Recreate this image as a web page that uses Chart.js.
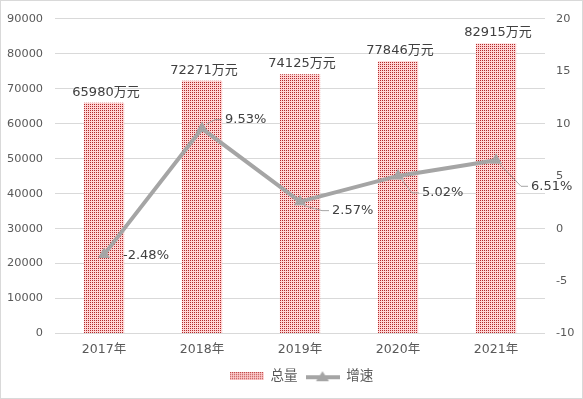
<!DOCTYPE html>
<html>
<head>
<meta charset="utf-8">
<script src="https://cdn.jsdelivr.net/npm/chart.js@4"></script>
<style>
html,body{margin:0;padding:0;background:#fff;}
#wrap{width:583px;height:399px;position:relative;}
</style>
</head>
<body>
<div id="wrap"><canvas id="c" width="583" height="399"></canvas></div>
<script>
const categories = ['2017年','2018年','2019年','2020年','2021年'];
const totals = [65980, 72271, 74125, 77846, 82915];
const growth = [-2.48, 9.53, 2.57, 5.02, 6.51];
const leftTicks = [0, 10000, 20000, 30000, 40000, 50000, 60000, 70000, 80000, 90000];
const rightTicks = [-10, -5, 0, 5, 10, 15, 20];
const seriesNames = ['总量', '增速'];

const FONT = "'DejaVu Sans', 'Noto Sans CJK SC', sans-serif";
const LINE_COLOR = '#a5a5a5';
const DOT_BG = '#ffd4d4';
const DOT_FG = '#b22a2a';

function makePattern() {
  const p = document.createElement('canvas');
  p.width = 2; p.height = 2;
  const g = p.getContext('2d');
  g.fillStyle = DOT_BG;
  g.fillRect(0, 0, 2, 2);
  g.fillStyle = DOT_FG;
  g.fillRect(0, 0, 1, 1);
  return document.getElementById('c').getContext('2d').createPattern(p, 'repeat');
}
const pattern = makePattern();

function barIcon() {
  const c = document.createElement('canvas');
  c.width = 34; c.height = 8;
  const g = c.getContext('2d');
  g.fillStyle = DOT_BG; g.fillRect(0, 0, 34, 8);
  g.fillStyle = DOT_FG;
  for (let x = 0; x < 34; x += 2) for (let y = 0; y < 8; y += 2) g.fillRect(x, y, 1, 1);
  return c;
}
function lineIcon() {
  const c = document.createElement('canvas');
  c.width = 34; c.height = 12;
  const g = c.getContext('2d');
  g.strokeStyle = LINE_COLOR; g.lineWidth = 4;
  g.beginPath(); g.moveTo(0, 7); g.lineTo(34, 7); g.stroke();
  g.fillStyle = LINE_COLOR;
  g.beginPath(); g.moveTo(17, 1); g.lineTo(23.5, 11); g.lineTo(10.5, 11); g.closePath(); g.fill();
  return c;
}
const icons = [barIcon(), lineIcon()];

const growthLabelOffsets = [[19, 1], [23, -9], [32, 9], [24, 17], [35, 26]];

const borderPlugin = {
  id: 'outerBorder',
  beforeDraw(chart) {
    const ctx = chart.ctx;
    ctx.save();
    ctx.fillStyle = '#fff';
    ctx.fillRect(0, 0, chart.width, chart.height);
    ctx.strokeStyle = '#d9d9d9';
    ctx.lineWidth = 1;
    ctx.strokeRect(0.5, 0.5, chart.width - 1, chart.height - 1);
    ctx.restore();
  }
};

const legendShift = {
  id: 'legendShift',
  afterLayout(chart) {
    if (chart.legend) { chart.legend.left += 10; chart.legend.right += 10; }
  }
};

const labelsPlugin = {
  id: 'valueLabels',
  afterDatasetsDraw(chart) {
    const ctx = chart.ctx;
    ctx.save();
    const barMeta = chart.getDatasetMeta(0);
    ctx.font = '13px ' + FONT;
    ctx.fillStyle = '#404040';
    ctx.textAlign = 'center';
    ctx.textBaseline = 'bottom';
    barMeta.data.forEach((el, i) => {
      ctx.fillText(totals[i] + '万元', el.x + 2, el.y - 4);
    });
    const lineMeta = chart.getDatasetMeta(1);
    ctx.textAlign = 'left';
    ctx.textBaseline = 'middle';
    lineMeta.data.forEach((el, i) => {
      const [dx, dy] = growthLabelOffsets[i];
      const lx = el.x + dx, ly = el.y + dy;
      if (dx > 20) {
        ctx.strokeStyle = '#a6a6a6';
        ctx.lineWidth = 1;
        ctx.beginPath();
        ctx.moveTo(el.x + 4, el.y + (dy > 0 ? 4 : -4));
        ctx.lineTo(lx - 10, ly);
        ctx.lineTo(lx - 3, ly);
        ctx.stroke();
      }
      ctx.fillStyle = '#404040';
      ctx.fillText(growth[i].toFixed(2) + '%', lx, ly);
    });
    ctx.restore();
  }
};

new Chart(document.getElementById('c'), {
  data: {
    labels: categories,
    datasets: [
      {
        type: 'bar',
        label: seriesNames[0],
        data: totals,
        backgroundColor: pattern,
        borderWidth: 0,
        yAxisID: 'y',
        categoryPercentage: 1,
        barPercentage: 0.41,
        order: 2
      },
      {
        type: 'line',
        label: seriesNames[1],
        data: growth,
        borderColor: LINE_COLOR,
        backgroundColor: LINE_COLOR,
        borderWidth: 4,
        pointStyle: 'triangle',
        pointRadius: 7,
        pointBorderWidth: 0,
        pointBackgroundColor: LINE_COLOR,
        tension: 0,
        yAxisID: 'y1',
        order: 1
      }
    ]
  },
  options: {
    responsive: false,
    animation: false,
    devicePixelRatio: 1,
    layout: { padding: { top: 13, left: 0, right: 0, bottom: 6 } },
    plugins: {
      tooltip: { enabled: false },
      legend: {
        position: 'bottom',
        labels: {
          usePointStyle: true,
          pointStyleWidth: 34,
          padding: 8,
          color: '#595959',
          font: { family: FONT, size: 13.5 },
          generateLabels() {
            return seriesNames.map((n, i) => ({
              text: n,
              pointStyle: icons[i],
              fillStyle: 'transparent',
              strokeStyle: 'transparent',
              lineWidth: 0,
              fontColor: '#595959',
              datasetIndex: i,
              hidden: false
            }));
          }
        }
      }
    },
    scales: {
      x: {
        grid: { display: false, drawTicks: false },
        border: { display: false },
        ticks: { color: '#595959', padding: 9, font: { family: FONT, size: 12.5 } },
        afterFit(s) { s.height = 28; }
      },
      y: {
        position: 'left',
        min: 0, max: 90000,
        afterBuildTicks(s) { s.ticks = leftTicks.map(v => ({ value: v })); },
        grid: { color: '#d9d9d9', drawTicks: false },
        border: { display: false },
        ticks: { color: '#595959', padding: 12, font: { family: FONT, size: 11.3 }, callback: v => String(v) },
        afterFit(s) { s.width = 55; }
      },
      y1: {
        position: 'right',
        min: -10, max: 20,
        afterBuildTicks(s) { s.ticks = rightTicks.map(v => ({ value: v })); },
        grid: { display: false, drawTicks: false },
        border: { display: false },
        ticks: { color: '#595959', padding: 11, font: { family: FONT, size: 11.3 }, callback: v => String(v) },
        afterFit(s) { s.width = 38; }
      }
    }
  },
  plugins: [borderPlugin, legendShift, labelsPlugin]
});
</script>
</body>
</html>
